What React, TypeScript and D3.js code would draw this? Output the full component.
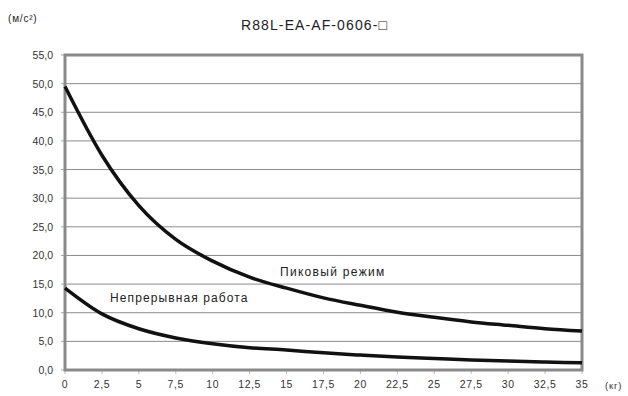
import React from "react";
import * as d3 from "d3";

const massKg = [0, 2.5, 5, 7.5, 10, 12.5, 15, 17.5, 20, 22.5, 25, 27.5, 30, 32.5, 35];
const peakAccel = [49.5, 37.5, 28.7, 22.8, 19.0, 16.2, 14.3, 12.6, 11.3, 10.1, 9.2, 8.4, 7.8, 7.2, 6.8];
const contAccel = [14.3, 9.8, 7.2, 5.6, 4.6, 3.9, 3.5, 3.0, 2.6, 2.25, 2.0, 1.75, 1.55, 1.4, 1.25];
const xTicks = [0, 2.5, 5, 7.5, 10, 12.5, 15, 17.5, 20, 22.5, 25, 27.5, 30, 32.5, 35];
const yTicks = [0, 5, 10, 15, 20, 25, 30, 35, 40, 45, 50, 55];
const title = "R88L-EA-AF-0606-\u25A1";
const yUnit = "(м/с²)";
const xUnit = "(кг)";
const peakLabel = "Пиковый режим";
const contLabel = "Непрерывная работа";

const W = 628;
const H = 396;
const L = 65, R = 582, T = 55, B = 370;

const fmt = (v: number) => String(v).replace(".", ",");
const fmtY = (v: number) => v.toFixed(1).replace(".", ",");

export default function App() {
  const x = d3.scaleLinear().domain([0, 35]).range([L, R]);
  const y = d3.scaleLinear().domain([0, 55]).range([B, T]);
  const line = d3
    .line<number>()
    .x((_, i) => x(massKg[i]))
    .y((d) => y(d))
    .curve(d3.curveMonotoneX);
  const font = "'Liberation Sans', Arial, sans-serif";
  return (
    <svg
      width={W}
      height={H}
      style={{ position: "absolute", left: 0, top: 0, background: "#fff" }}
      fontFamily={font}
    >
      <rect width={W} height={H} fill="#fff" />
      <text x={8} y={22} fontSize={10} letterSpacing={0.8} fill="#222">{yUnit}</text>
      <text x={241} y={30} fontSize={14} letterSpacing={1.1} fill="#222">{title}</text>
      {yTicks.filter((t) => t > 0 && t < 55).map((t) => (
        <line key={"g" + t} x1={L} x2={R} y1={y(t)} y2={y(t)} stroke="#8c8c8c" strokeWidth={1} />
      ))}
      {yTicks.map((t) => (
        <g key={"y" + t}>
          <line x1={L - 4} x2={L} y1={y(t)} y2={y(t)} stroke="#aaa" strokeWidth={1} />
          <text x={53} y={y(t) + 4} fontSize={10.5} fill="#333" textAnchor="end">{fmtY(t)}</text>
        </g>
      ))}
      {xTicks.map((t) => (
        <g key={"x" + t}>
          <line x1={x(t)} x2={x(t)} y1={B} y2={B + 4} stroke="#bbb" strokeWidth={1} />
          <text x={x(t)} y={388} fontSize={10.5} letterSpacing={0.6} fill="#333" textAnchor="middle">{fmt(t)}</text>
        </g>
      ))}
      <text x={605} y={389} fontSize={9.5} letterSpacing={0.8} fill="#333">{xUnit}</text>
      <rect x={L} y={T} width={R - L} height={B - T} fill="none" stroke="#8a8a8a" strokeWidth={3} />
      <path d={line(peakAccel) || ""} fill="none" stroke="#111" strokeWidth={3.5} />
      <path d={line(contAccel) || ""} fill="none" stroke="#111" strokeWidth={3.5} />
      <text x={280} y={276} fontSize={12} letterSpacing={1.3} fill="#222">{peakLabel}</text>
      <text x={110} y={302} fontSize={12} letterSpacing={1.1} fill="#222">{contLabel}</text>
    </svg>
  );
}
